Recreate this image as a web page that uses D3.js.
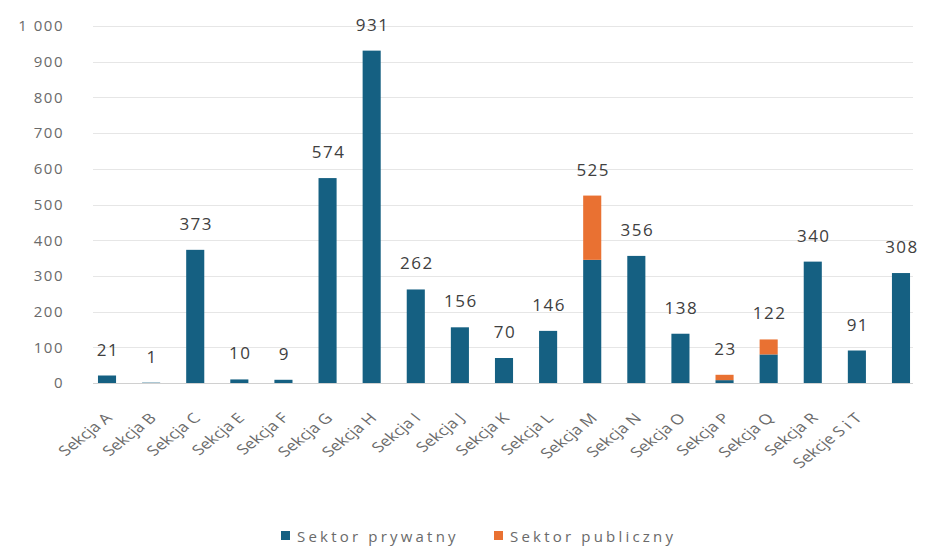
<!DOCTYPE html>
<html>
<head>
<meta charset="utf-8">
<script src="https://cdn.jsdelivr.net/npm/d3@7"></script>
<style>
  html, body { margin: 0; padding: 0; background: #ffffff; }
  svg { display: block; font-family: "Open Sans", Lato, sans-serif; }
</style>
</head>
<body>
<svg id="chart" width="934" height="549"></svg>
<script>
// ---- data ----
const categories = ["A","B","C","D","E","F","G","H","I","J","K","L","M","N","O","P","Q","R","ST"];
const tickLabels = ["Sekcja A","Sekcja B","Sekcja C","Sekcja E","Sekcja F","Sekcja G","Sekcja H","Sekcja I","Sekcja J","Sekcja K","Sekcja L","Sekcja M","Sekcja N","Sekcja O","Sekcja P","Sekcja Q","Sekcja R","Sekcje S i T",""];
const privateValues = [21, 1, 373, 10, 9, 574, 931, 262, 156, 70, 146, 345, 356, 138, 8, 80, 340, 91, 308];
const publicValues  = [0, 0, 0, 0, 0, 0, 0, 0, 0, 0, 0, 180, 0, 0, 15, 42, 0, 0, 0];
const totals        = [21, 1, 373, 10, 9, 574, 931, 262, 156, 70, 146, 525, 356, 138, 23, 122, 340, 91, 308];
const yTicks = [0, 100, 200, 300, 400, 500, 600, 700, 800, 900, 1000];
const seriesNames = ["Sektor prywatny", "Sektor publiczny"];
const colors = ["#156082", "#E97132"];

// ---- chart ----
const svg = d3.select("#chart");
const plot = { left: 85, right: 923, top: 26, bottom: 383 };

const x = d3.scaleBand().domain(categories).range([plot.left, plot.right]).paddingInner(0.59).paddingOuter(0.294);
const y = d3.scaleLinear().domain([0, 1000]).range([plot.bottom, plot.top]);

const fmt = v => v >= 1000 ? d3.format(",")(v).replace(",", " ") : String(v);

// gridlines
svg.append("g").selectAll("line").data(yTicks).join("line")
  .attr("x1", 93).attr("x2", 913)
  .attr("y1", d => Math.round(y(d)) + 0.5).attr("y2", d => Math.round(y(d)) + 0.5)
  .attr("stroke", d => d === 0 ? "#d0d0d0" : "#e6e6e6").attr("stroke-width", 1);

// y axis labels
const yAxis = d3.axisLeft(y).tickValues(yTicks).tickFormat(fmt).tickSize(0).tickPadding(0);
const gy = svg.append("g").attr("transform", "translate(64,0)").call(yAxis);
gy.select(".domain").remove();
gy.selectAll("text").attr("fill", "#6a6a6a")
  .style("font-size", "15px").style("letter-spacing", "1.5px")
  .style("font-family", "'Open Sans', Lato, sans-serif");

// stacked data
const rows = categories.map((c, i) => ({ cat: c, p0: privateValues[i], p1: publicValues[i] }));
const stack = d3.stack().keys(["p0", "p1"])(rows);

svg.append("g").selectAll("g").data(stack).join("g")
  .attr("fill", (d, i) => colors[i])
  .selectAll("rect").data(d => d).join("rect")
  .attr("x", d => x(d.data.cat))
  .attr("width", x.bandwidth())
  .attr("y", d => y(d[1]))
  .attr("height", d => Math.max(0, y(d[0]) - y(d[1])));

// value labels
svg.append("g").selectAll("text").data(categories).join("text")
  .attr("x", d => x(d) + x.bandwidth() / 2 + 1)
  .attr("y", (d, i) => y(totals[i]) - 20)
  .attr("text-anchor", "middle")
  .attr("fill", "#404040")
  .style("font-size", "17px")
  .style("letter-spacing", "1.5px")
  .text((d, i) => fmt(totals[i]));

// x axis labels (rotated)
const xAxis = d3.axisBottom(x).tickFormat((d, i) => tickLabels[i]).tickSize(0).tickPadding(0);
const gx = svg.append("g").attr("transform", `translate(0,${plot.bottom})`).call(xAxis);
gx.select(".domain").remove();
gx.selectAll("text")
  .attr("fill", "#6a6a6a")
  .style("font-size", "14px")
  .style("font-family", "'Open Sans', Lato, sans-serif")
  .attr("text-anchor", "end")
  .attr("dy", null)
  .attr("y", 0)
  .attr("transform", "translate(6,36) scale(1.25,1) rotate(-45)");

// legend
const legend = svg.append("g");
const legX = [281, 494];
seriesNames.forEach((name, i) => {
  legend.append("rect").attr("x", legX[i]).attr("y", 531).attr("width", 9).attr("height", 9).attr("fill", colors[i]);
  legend.append("text").attr("x", legX[i] + 16).attr("y", 542)
    .attr("fill", "#6a6a6a").style("font-size", "15px").style("letter-spacing", "3.2px").text(name);
});
</script>
</body>
</html>
